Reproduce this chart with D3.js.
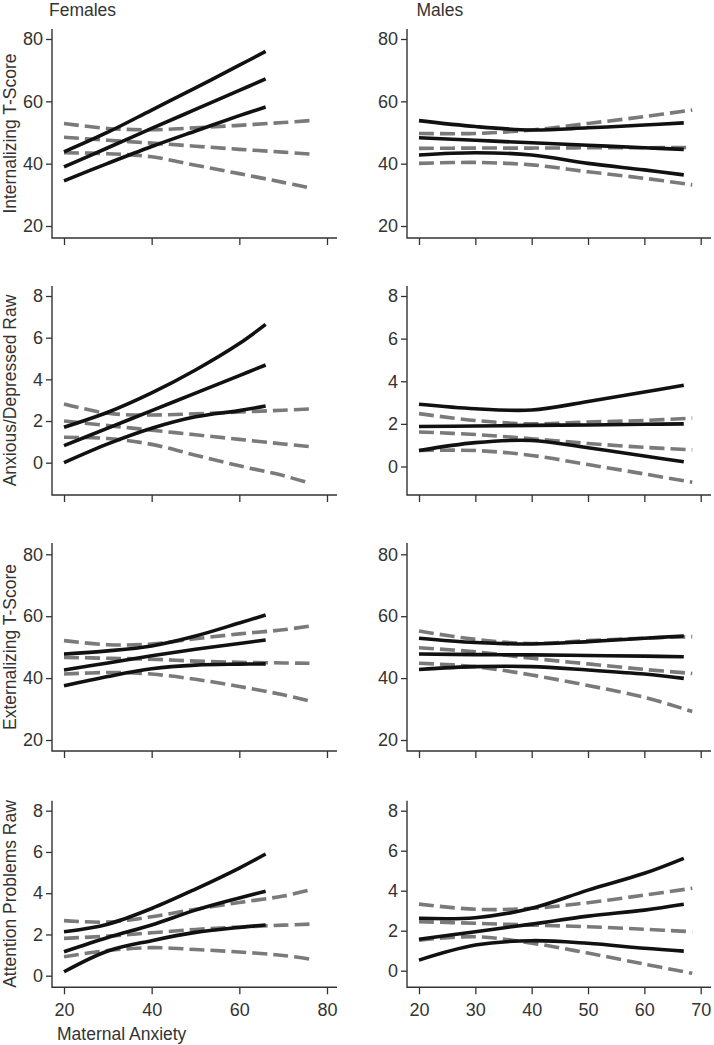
<!DOCTYPE html>
<html><head><meta charset="utf-8">
<script src="https://cdn.jsdelivr.net/npm/d3@7"></script>
<style>
html,body{margin:0;padding:0;background:#fff;}
svg{display:block;font-family:"Liberation Sans",Arial,sans-serif;}
</style></head>
<body><svg id="c" width="714" height="1045"></svg>
<script>
// ---- data ----
const colTitles = ["Females", "Males"];
const rowTitles = ["Internalizing T-Score", "Anxious/Depressed Raw", "Externalizing T-Score", "Attention Problems Raw"];
const xTitle = "Maternal Anxiety";
const xTicksFem = [20, 40, 60, 80];
const xTicksMale = [20, 30, 40, 50, 60, 70];
const yTicksT = [20, 40, 60, 80];
const yTicksRaw = [0, 2, 4, 6, 8];

const xFemSolid = [20, 30, 40, 50, 60, 66];
const xFemDash = [20, 30, 40, 50, 60, 70, 76];
const xMaleSolid = [20, 30, 40, 50, 60, 67];
const xMaleDash = [20, 30, 40, 50, 60, 68.5];

const femIntSolid = [[43.8,50.1,57.2,64.3,71.6,76.0],[39.0,45.1,51.3,57.4,63.5,67.2],[34.5,40.1,45.5,50.5,55.4,58.2]];
const femIntDash = [[52.9,51.3,50.9,51.5,52.3,53.2,53.8],[48.5,47.5,46.6,45.6,44.6,43.7,43.1],[43.5,43.2,42.2,39.5,36.8,34.0,32.3]];
const maleIntSolid = [[53.8,51.9,50.8,51.5,52.4,53.1],[48.3,47.5,46.7,45.9,45.1,44.6],[42.8,43.5,42.8,40.1,38.0,36.4]];
const maleIntDash = [[49.7,49.7,50.8,52.9,55.1,57.2],[44.9,45.0,45.0,45.1,45.1,45.2],[40.1,40.4,39.6,37.4,35.3,33.2]];

const femAnxSolid = [[1.7,2.42,3.35,4.45,5.72,6.64],[0.82,1.66,2.5,3.34,4.18,4.69],[0.0,0.9,1.65,2.2,2.5,2.72]];
const femAnxDash = [[2.82,2.37,2.29,2.35,2.43,2.52,2.58],[2.0,1.78,1.56,1.34,1.12,0.90,0.77],[1.22,1.16,0.88,0.36,-0.15,-0.62,-0.98]];
const maleAnxSolid = [[2.92,2.71,2.65,3.05,3.5,3.81],[1.88,1.9,1.93,1.95,1.98,2.0],[0.75,1.12,1.22,0.88,0.49,0.22]];
const maleAnxDash = [[2.48,2.16,2.0,2.09,2.16,2.27],[1.62,1.5,1.3,1.08,0.9,0.78],[0.75,0.75,0.52,0.09,-0.35,-0.74]];

const femExtSolid = [[47.8,48.8,50.4,53.6,57.8,60.4],[42.6,44.9,47.2,49.3,51.2,52.3],[37.5,40.5,43.0,44.2,44.5,44.6]];
const femExtDash = [[52.1,50.8,51.0,52.7,54.3,55.6,56.8],[46.7,46.4,46.1,45.5,45.1,44.9,44.8],[41.3,41.8,41.3,39.6,37.3,34.6,32.6]];
const maleExtSolid = [[52.9,51.5,51.0,51.8,52.9,53.6],[47.8,47.6,47.5,47.3,47.1,46.9],[42.8,43.7,43.7,42.6,41.3,39.9]];
const maleExtDash = [[55.2,52.5,51.2,52.1,52.9,53.4],[49.8,48.5,46.4,44.6,42.8,41.5],[44.8,43.7,41.0,37.6,33.8,29.2]];

const femAttSolid = [[2.13,2.5,3.26,4.2,5.22,5.9],[1.16,1.85,2.46,3.18,3.77,4.1],[0.19,1.2,1.7,2.1,2.34,2.46]];
const femAttDash = [[2.67,2.6,2.86,3.22,3.55,3.86,4.15],[1.81,1.92,2.08,2.24,2.36,2.45,2.5],[0.92,1.22,1.36,1.27,1.15,0.98,0.81]];
const maleAttSolid = [[2.62,2.65,3.12,4.03,4.87,5.62],[1.57,1.95,2.33,2.73,3.03,3.32],[0.53,1.28,1.5,1.37,1.12,0.98]];
const maleAttDash = [[3.33,3.07,3.12,3.4,3.78,4.12],[2.45,2.37,2.28,2.2,2.07,1.95],[1.53,1.7,1.38,0.88,0.33,-0.13]];

// ---- layout ----
const TXT = "#333", AX = "#333", SOLID = "#111", DASH = "#7a7a7a";
const svg = d3.select("#c");
const cols = [
  {x0: 52, x1: 337, rLo: 64, rHi: 327, dom: [20, 80], ticks: xTicksFem, sx: xFemSolid, dx: xFemDash, titleX: 49},
  {x0: 407, x1: 711, rLo: 419, rHi: 700.7, dom: [20, 70], ticks: xTicksMale, sx: xMaleSolid, dx: xMaleDash, titleX: 416.5}
];
const rows = [
  {top: 29, bottom: 238, ticks: yTicksT, dom: [20, 80], px: [[226, 39], [226, 39]],
   data: [[femIntSolid, femIntDash], [maleIntSolid, maleIntDash]]},
  {top: 286, bottom: 495, ticks: yTicksRaw, dom: [0, 8], px: [[462.7, 296], [466.5, 296]],
   data: [[femAnxSolid, femAnxDash], [maleAnxSolid, maleAnxDash]]},
  {top: 543, bottom: 751, ticks: yTicksT, dom: [20, 80], px: [[740, 554.3], [740, 554.3]],
   data: [[femExtSolid, femExtDash], [maleExtSolid, maleExtDash]]},
  {top: 800.7, bottom: 987.3, ticks: yTicksRaw, dom: [0, 8], px: [[975.7, 810.7], [970.7, 810.7]],
   data: [[femAttSolid, femAttDash], [maleAttSolid, maleAttDash]]}
];

rows.forEach((row, ri) => {
  cols.forEach((col, ci) => {
    const x = d3.scaleLinear().domain(col.dom).range([col.rLo, col.rHi]);
    const y = d3.scaleLinear().domain(row.dom).range(row.px[ci]);
    const g = svg.append("g");

    // y axis
    const ya = g.append("g").attr("transform", `translate(${col.x0},0)`)
      .call(d3.axisLeft(y).tickValues(row.ticks).tickSize(6).tickPadding(3).tickFormat(d3.format("d")));
    ya.select(".domain").remove();
    ya.selectAll("line").attr("stroke", AX).attr("stroke-width", 1.3);
    ya.selectAll("text").attr("fill", TXT).style("font-size", "18px").style("font-family", "Liberation Sans, Arial, sans-serif");
    // x axis
    const xa = g.append("g").attr("transform", `translate(0,${row.bottom})`)
      .call(d3.axisBottom(x).tickValues(col.ticks).tickSize(7).tickPadding(9).tickFormat(d3.format("d")));
    xa.select(".domain").remove();
    xa.selectAll("line").attr("stroke", AX).attr("stroke-width", 1.3);
    xa.selectAll("text").attr("fill", TXT).style("font-size", "18px").style("font-family", "Liberation Sans, Arial, sans-serif");
    if (ri < rows.length - 1) xa.selectAll("text").remove();
    // axis lines
    g.append("path").attr("d", `M${col.x0},${row.top}V${row.bottom}H${col.x1}`)
      .attr("fill", "none").attr("stroke", AX).attr("stroke-width", 1.4);

    const [solid, dashed] = row.data[ci];
    const line = (xs) => d3.line().x((d, i) => x(xs[i])).y(d => y(d)).curve(d3.curveCatmullRom.alpha(0.5));
    dashed.forEach(s => {
      g.append("path").attr("d", line(col.dx)(s)).attr("fill", "none")
        .attr("stroke", DASH).attr("stroke-width", 3.6).attr("stroke-dasharray", "15,6");
    });
    solid.forEach(s => {
      g.append("path").attr("d", line(col.sx)(s)).attr("fill", "none")
        .attr("stroke", SOLID).attr("stroke-width", 3.6);
    });

    if (ci === 0) {
      svg.append("text").attr("transform", `translate(16,${(row.top + row.bottom) / 2}) rotate(-90)`)
        .attr("text-anchor", "middle").attr("fill", TXT).style("font-size", "17.5px").text(rowTitles[ri]);
    }
  });
});

cols.forEach((col, ci) => {
  svg.append("text").attr("x", col.titleX).attr("y", 15.5).attr("fill", TXT)
    .style("font-size", "17.5px").text(colTitles[ci]);
});
svg.append("text").attr("x", 57).attr("y", 1040).attr("fill", TXT).style("font-size", "17.5px").text(xTitle);
</script></body></html>
